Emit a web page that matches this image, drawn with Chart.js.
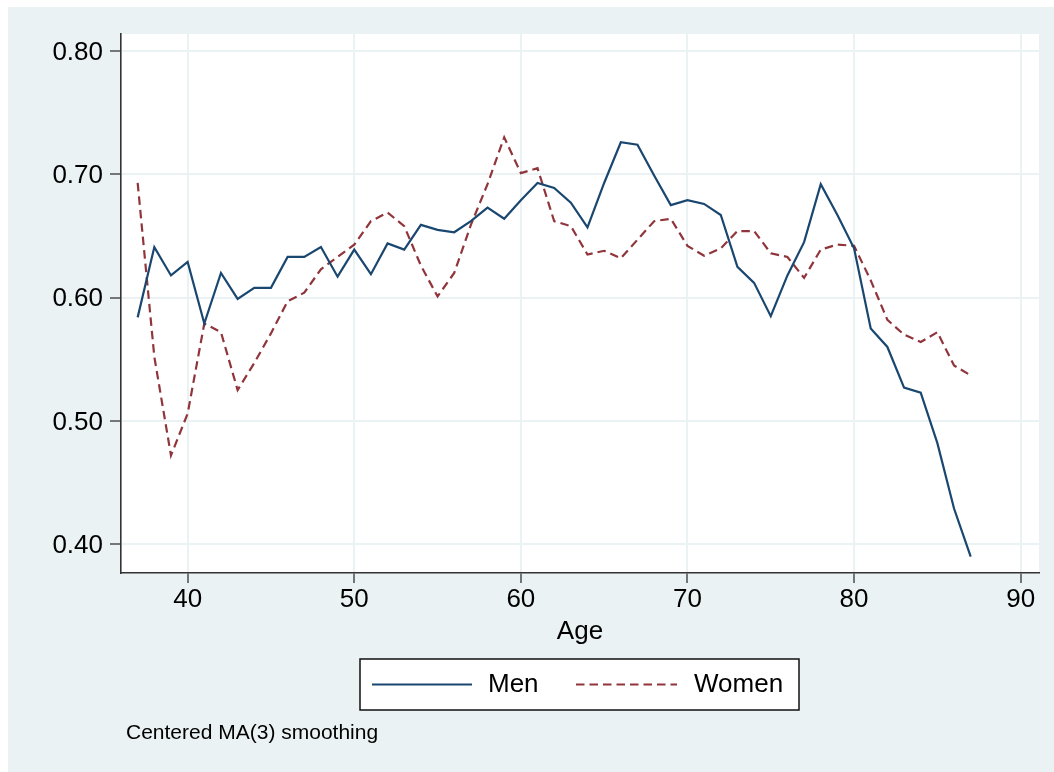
<!DOCTYPE html>
<html>
<head>
<meta charset="utf-8">
<script src="https://cdn.jsdelivr.net/npm/chart.js@4.4.1/dist/chart.umd.min.js"></script>
<style>
    body { margin: 0; background: #fff; }
    canvas { display: block; }
</style>
</head>
<body>
<canvas id="maChart" width="1054" height="772"></canvas>
<script>
// values
var ages = [37, 38, 39, 40, 41, 42, 43, 44, 45, 46, 47, 48, 49, 50, 51, 52, 53,
            54, 55, 56, 57, 58, 59, 60, 61, 62, 63, 64, 65, 66, 67, 68, 69, 70,
            71, 72, 73, 74, 75, 76, 77, 78, 79, 80, 81, 82, 83, 84, 85, 86, 87];
var men = [0.584, 0.641, 0.618, 0.629, 0.579, 0.620, 0.599, 0.608, 0.608, 0.633, 0.633,
           0.641, 0.617, 0.639, 0.619, 0.644, 0.639, 0.659, 0.655, 0.653, 0.662, 0.673,
           0.664, 0.679, 0.693, 0.689, 0.677, 0.657, 0.693, 0.726, 0.724, 0.699, 0.675,
           0.679, 0.676, 0.667, 0.625, 0.612, 0.585, 0.618, 0.645, 0.692, 0.667, 0.640,
           0.575, 0.560, 0.527, 0.523, 0.482, 0.429, 0.390];
var women = [0.693, 0.552, 0.472, 0.506, 0.579, 0.572, 0.525, 0.547, 0.571, 0.597, 0.604,
             0.623, 0.633, 0.643, 0.662, 0.669, 0.658, 0.626, 0.601, 0.620, 0.659, 0.692,
             0.730, 0.701, 0.705, 0.662, 0.658, 0.635, 0.638, 0.632, 0.647, 0.662, 0.664,
             0.642, 0.634, 0.640, 0.654, 0.654, 0.636, 0.633, 0.616, 0.639, 0.643, 0.642,
             0.614, 0.582, 0.570, 0.564, 0.572, 0.545, 0.537];
var seriesNames = ['Men', 'Women'];
var xTicks = [40, 50, 60, 70, 80, 90];
var yTicks = [0.40, 0.50, 0.60, 0.70, 0.80];
var xTitle = 'Age';
var noteText = 'Centered MA(3) smoothing';

var FONT = '"Liberation Sans", Arial, Helvetica, sans-serif';
var BG = '#eaf2f3';

function points(vals) {
    return ages.map(function (a, i) { return { x: a, y: vals[i] }; });
}

// light panel behind everything, white plot region
const backdrop = {
    id: 'backdrop',
    beforeDraw: function (chart) {
        var c = chart.ctx, a = chart.chartArea;
        c.save();
        c.fillStyle = '#fff';
        c.fillRect(0, 0, chart.width, chart.height);
        c.fillStyle = BG;
        c.fillRect(8, 7, chart.width - 8, chart.height - 7);
        c.fillStyle = '#fff';
        c.fillRect(a.left, a.top, a.right - a.left, a.bottom - a.top);
        c.restore();
    }
};

// boxed legend + note under the axis
const boxLegend = {
    id: 'boxLegend',
    afterDraw: function (chart) {
        var c = chart.ctx;
        var ds = chart.data.datasets;
        c.save();
        c.fillStyle = '#fff';
        c.fillRect(360, 659, 439, 51);
        c.strokeStyle = '#111';
        c.lineWidth = 1.5;
        c.strokeRect(360, 659, 439, 51);

        var items = [{ x0: 372, x1: 472, tx: 488 }, { x0: 576, x1: 677, tx: 694 }];
        items.forEach(function (it, i) {
            c.beginPath();
            c.strokeStyle = ds[i].borderColor;
            c.lineWidth = ds[i].borderWidth;
            c.setLineDash(ds[i].borderDash || []);
            c.moveTo(it.x0, 684.5);
            c.lineTo(it.x1, 684.5);
            c.stroke();
            c.setLineDash([]);
            c.fillStyle = '#000';
            c.font = '26px ' + FONT;
            c.textAlign = 'left';
            c.textBaseline = 'middle';
            c.fillText(ds[i].label, it.tx, 685);
        });

        c.font = '21px ' + FONT;
        c.textBaseline = 'alphabetic';
        c.fillText(noteText, 126, 739);
        c.restore();
    }
};

const ctx = document.getElementById('maChart').getContext('2d');
const maChart = new Chart(ctx, {
    type: 'line',
    data: {
        datasets: [{
            label: seriesNames[0],
            data: points(men),
            borderColor: '#1a476f',
            borderWidth: 2.2,
            pointRadius: 0,
            tension: 0,
            fill: false
        }, {
            label: seriesNames[1],
            data: points(women),
            borderColor: '#90353b',
            borderWidth: 2.2,
            borderDash: [8.5, 5],
            pointRadius: 0,
            tension: 0,
            fill: false
        }]
    },
    options: {
        responsive: false,
        maintainAspectRatio: false,
        animation: false,
        layout: { padding: { left: 0, top: 34, right: 15, bottom: 0 } },
        plugins: {
            legend: { display: false },
            tooltip: { enabled: false }
        },
        scales: {
            x: {
                type: 'linear',
                min: 36,
                max: 91.1,
                afterBuildTicks: function (axis) {
                    axis.ticks = xTicks.map(function (v) { return { value: v }; });
                },
                afterFit: function (axis) { axis.height = 199; },
                grid: { color: BG, lineWidth: 2, tickLength: 10, tickColor: '#333', tickWidth: 1.3 },
                border: { color: '#333', width: 1.6 },
                ticks: {
                    autoSkip: false,
                    maxRotation: 0,
                    padding: 1,
                    color: '#000',
                    font: { family: FONT, size: 26 },
                    callback: function (v) { return String(v); }
                },
                title: {
                    display: true,
                    text: xTitle,
                    color: '#000',
                    font: { family: FONT, size: 26 },
                    padding: { top: 0, bottom: 125 }
                }
            },
            y: {
                min: 0.3767,
                max: 0.8138,
                afterBuildTicks: function (axis) {
                    axis.ticks = yTicks.map(function (v) { return { value: v }; });
                },
                afterFit: function (axis) { axis.width = 121; },
                grid: { color: BG, lineWidth: 2, tickLength: 11, tickColor: '#333', tickWidth: 1.3 },
                border: { color: '#333', width: 1.6 },
                ticks: {
                    autoSkip: false,
                    padding: 7,
                    labelOffset: 1.5,
                    color: '#000',
                    font: { family: FONT, size: 26 },
                    callback: function (v) { return v.toFixed(2); }
                }
            }
        }
    },
    plugins: [backdrop, boxLegend]
});
</script>
</body>
</html>
